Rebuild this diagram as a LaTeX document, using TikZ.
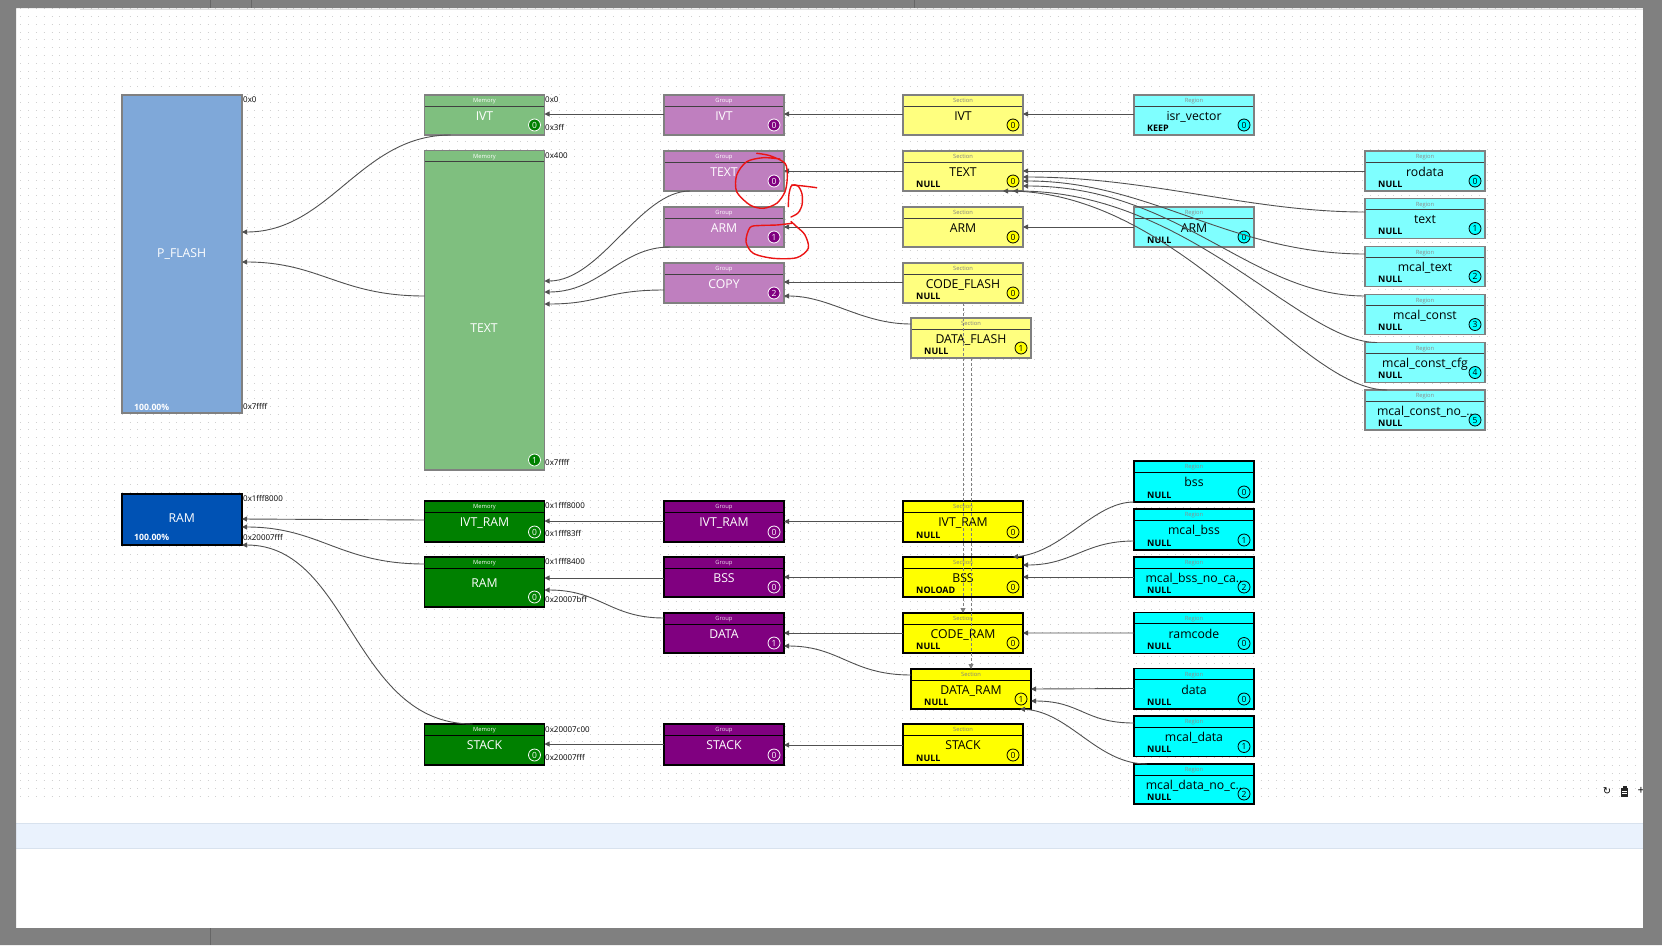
\documentclass[tikz,border=0pt]{standalone}
\usepackage{fontspec}
\setmainfont{Open Sans}
\newfontfamily\dejavu{DejaVu Sans}
\usetikzlibrary{calc,arrows.meta}
\definecolor{gbg}{RGB}{128,128,128}
\definecolor{mfc}{RGB}{127,191,127}
\definecolor{mrc}{RGB}{0,128,0}
\definecolor{gfc}{RGB}{191,127,191}
\definecolor{grc}{RGB}{128,0,128}
\definecolor{sfc}{RGB}{255,255,127}
\definecolor{src}{RGB}{255,255,0}
\definecolor{rfc}{RGB}{127,255,255}
\definecolor{rrc}{RGB}{0,255,255}
\definecolor{pfc}{RGB}{127,168,217}
\definecolor{ramc}{RGB}{0,82,180}
\definecolor{conncol}{RGB}{80,80,80}
\definecolor{dotc}{RGB}{208,208,208}
\definecolor{bandc}{RGB}{234,242,253}
\definecolor{bandl}{RGB}{216,226,238}
\definecolor{flashline}{RGB}{128,128,128}
\definecolor{hdrline}{RGB}{64,64,64}
\definecolor{redmk}{RGB}{235,20,20}
\newcommand\fs[1]{\fontsize{#1}{#1}\selectfont}
\newcommand\card[9]{%
  \node[#2, anchor=north west, minimum width=#5bp, minimum height=#6bp] (#1) at (#3,#4) {};
  \draw[#2sep] ($(#1.north west)+(0.7,11)$) -- ($(#1.north east)+(-0.7,11)$);
  \node[#2hdr] (#1-h) at ($(#1.north)+(0,5.8)$) {#7};
  \pgfmathsetmacro\lblo{(#6+11)/2-4.5}
  \node[#2lbl] (#1-l) at ($(#1.north)+(0,\lblo)$) {#8};
  \node[#2badge] (#1-b) at ($(#1.south east)+(-10,-10)$) {#9};
}
\newcommand\flag[2]{\node[flagst, anchor=west] (#1-f) at ($(#1.south west)+(13,-7)$) {#2};}
\begin{document}
\begin{tikzpicture}[x=1bp,y=-1bp,
 box/.style={rectangle, inner sep=0pt, outer sep=0pt, line width=1.4bp},
 hdr/.style={inner sep=0pt, font=\fs{5.8}, text height=4.2bp, text depth=0bp},
 lbl/.style={inner sep=0pt, font=\fs{12.3}, text height=8.8bp, text depth=0bp},
 badge/.style={circle, inner sep=0pt, minimum size=12bp, line width=0.8bp, font=\fs{8.5}, text height=6.1bp, text depth=0bp},
 sep/.style={line width=1bp},
 mf/.style={box, fill=mfc, draw=flashline},
 mfsep/.style={sep, draw=hdrline},
 mfhdr/.style={hdr, text=white},
 mflbl/.style={lbl, text=white},
 mfbadge/.style={badge, fill=mrc, draw=white, text=white},
 mr/.style={box, fill=mrc, draw=black},
 mrsep/.style={sep, draw=black},
 mrhdr/.style={hdr, text=white},
 mrlbl/.style={lbl, text=white},
 mrbadge/.style={badge, draw=white, text=white},
 gf/.style={box, fill=gfc, draw=flashline},
 gfsep/.style={sep, draw=hdrline},
 gfhdr/.style={hdr, text=white},
 gflbl/.style={lbl, text=white},
 gfbadge/.style={badge, fill=grc, draw=white, text=white},
 gr/.style={box, fill=grc, draw=black},
 grsep/.style={sep, draw=black},
 grhdr/.style={hdr, text=white!85!grc},
 grlbl/.style={lbl, text=white},
 grbadge/.style={badge, draw=white, text=white},
 sf/.style={box, fill=sfc, draw=flashline},
 sfsep/.style={sep, draw=hdrline},
 sfhdr/.style={hdr, text=black!50},
 sflbl/.style={lbl, text=black},
 sfbadge/.style={badge, fill=src, draw=black, text=black},
 sr/.style={box, fill=src, draw=black},
 srsep/.style={sep, draw=black},
 srhdr/.style={hdr, text=black!50},
 srlbl/.style={lbl, text=black},
 srbadge/.style={badge, draw=black, text=black},
 rf/.style={box, fill=rfc, draw=flashline},
 rfsep/.style={sep, draw=hdrline},
 rfhdr/.style={hdr, text=black!45},
 rflbl/.style={lbl, text=black},
 rfbadge/.style={badge, fill=rrc, draw=black, text=black},
 rr/.style={box, fill=rrc, draw=black},
 rrsep/.style={sep, draw=black},
 rrhdr/.style={hdr, text=black!45},
 rrlbl/.style={lbl, text=black},
 rrbadge/.style={badge, draw=black, text=black},
 flagst/.style={inner sep=0pt, font=\bfseries\fs{9}, text=black, text height=6.4bp, text depth=0bp},
 addr/.style={inner sep=0pt, anchor=west, font=\fs{8}, text=black, text height=5.7bp, text depth=0bp},
 conn/.style={draw=conncol, line width=0.9bp, -{Triangle[length=5bp,width=5bp]}},
 dconn/.style={conn, draw=gray, dash pattern=on 3bp off 2bp},
 redmark/.style={draw=redmk, line width=1.4bp, line cap=round, line join=round},
]
\useasboundingbox (0,0) rectangle (1662,945);
% window background
\fill[gbg] (0,0) rectangle (1662,945);
\fill[white] (16,8) rectangle (1643,928);
\draw[black!12, line width=1bp] (80,9) -- (1643,9);
% dot grid
\foreach \r in {0,...,101}{
  \draw[dotc, line width=1.1bp, dash pattern=on 1.1bp off 6.7bp] (20.3,{8.7+7.8*\r}) -- (1643,{8.7+7.8*\r});
}
% light band
\fill[bandc] (16,823) rectangle (1643,848);
\draw[bandl, line width=1bp] (16,823) -- (1643,823) (16,848) -- (1643,848);

% ---------- P_FLASH and RAM ----------
\node[box, fill=pfc, draw=flashline, anchor=north west, minimum width=120bp, minimum height=318bp] (pflash) at (122,95) {};
\node[lbl, text=white] (pflash-l) at (181.7,253.3) {P\_FLASH};
\node[inner sep=0pt, anchor=west, font=\bfseries\fs{8.7}, text=white] (pflash-p) at (134,407.5) {100.00\%};
\node[box, fill=ramc, draw=black, anchor=north west, minimum width=120bp, minimum height=51bp] (ram) at (122,494) {};
\node[lbl, text=white] (ram-l) at (181.7,518.3) {RAM};
\node[inner sep=0pt, anchor=west, font=\bfseries\fs{8.7}, text=white] (ram-p) at (134,537.7) {100.00\%};

% ---------- Memory ----------
\card{ivtm}{mf}{424.5}{95}{120}{40}{Memory}{IVT}{0}
\card{textm}{mf}{424.5}{150.5}{120}{319.5}{Memory}{}{1}
\node[mflbl] (textm-t) at (484,328) {TEXT};
\card{ivtramm}{mr}{424.5}{501}{120}{41}{Memory}{IVT\_RAM}{0}
\card{ramm}{mr}{424.5}{557}{120}{50}{Memory}{RAM}{0}
\card{stackm}{mr}{424.5}{724}{120}{41}{Memory}{STACK}{0}

% ---------- Groups ----------
\card{ivtg}{gf}{664}{95}{120}{40}{Group}{IVT}{0}
\card{textg}{gf}{664}{151}{120}{40}{Group}{TEXT}{0}
\card{armg}{gf}{664}{207}{120}{40}{Group}{ARM}{1}
\card{copyg}{gf}{664}{263}{120}{40}{Group}{COPY}{2}
\card{ivtramg}{gr}{664}{501}{120}{41}{Group}{IVT\_RAM}{0}
\card{bssg}{gr}{664}{557}{120}{40}{Group}{BSS}{0}
\card{datag}{gr}{664}{613}{120}{40}{Group}{DATA}{1}
\card{stackg}{gr}{664}{724}{120}{41}{Group}{STACK}{0}

% ---------- Sections ----------
\card{ivts}{sf}{903}{95}{120}{40}{Section}{IVT}{0}
\card{texts}{sf}{903}{151}{120}{40}{Section}{TEXT}{0}\flag{texts}{NULL}
\card{arms}{sf}{903}{207}{120}{40}{Section}{ARM}{0}
\card{codefs}{sf}{903}{263}{120}{40}{Section}{CODE\_FLASH}{0}\flag{codefs}{NULL}
\card{datafs}{sf}{911}{318}{120}{40}{Section}{DATA\_FLASH}{1}\flag{datafs}{NULL}
\card{ivtrams}{sr}{903}{501}{120}{41}{Section}{IVT\_RAM}{0}\flag{ivtrams}{NULL}
\card{bsss}{sr}{903}{557}{120}{40}{Section}{BSS}{0}\flag{bsss}{NOLOAD}
\card{coders}{sr}{903}{613}{120}{40}{Section}{CODE\_RAM}{0}\flag{coders}{NULL}
\card{datars}{sr}{911}{669}{120}{40}{Section}{DATA\_RAM}{1}\flag{datars}{NULL}
\card{stacks}{sr}{903}{724}{120}{41}{Section}{STACK}{0}\flag{stacks}{NULL}

% ---------- Regions ----------
\card{isrr}{rf}{1134}{95}{120}{40}{Region}{isr\_vector}{0}\flag{isrr}{KEEP}
\card{armr}{rf}{1134}{207}{120}{40}{Region}{ARM}{0}\flag{armr}{NULL}
\card{rodatar}{rf}{1365}{151}{120}{40}{Region}{rodata}{0}\flag{rodatar}{NULL}
\card{textr}{rf}{1365}{198.5}{120}{40}{Region}{text}{1}\flag{textr}{NULL}
\card{mtextr}{rf}{1365}{246.5}{120}{40}{Region}{mcal\_text}{2}\flag{mtextr}{NULL}
\card{mconstr}{rf}{1365}{294.5}{120}{40}{Region}{mcal\_const}{3}\flag{mconstr}{NULL}
\card{mcfgr}{rf}{1365}{342.5}{120}{40}{Region}{mcal\_const\_cfg}{4}\flag{mcfgr}{NULL}
\card{mnor}{rf}{1365}{390}{120}{40}{Region}{mcal\_const\_no\_..}{5}\flag{mnor}{NULL}
\card{bssr}{rr}{1134}{461}{120}{41}{Region}{bss}{0}\flag{bssr}{NULL}
\card{mbssr}{rr}{1134}{509}{120}{41}{Region}{mcal\_bss}{1}\flag{mbssr}{NULL}
\card{mbssnr}{rr}{1134}{557}{120}{40}{Region}{mcal\_bss\_no\_ca..}{2}\flag{mbssnr}{NULL}
\card{ramcoder}{rr}{1134}{612.5}{120}{41}{Region}{ramcode}{0}\flag{ramcoder}{NULL}
\card{datar}{rr}{1134}{668.5}{120}{40.5}{Region}{data}{0}\flag{datar}{NULL}
\card{mdatar}{rr}{1134}{716}{120}{40.5}{Region}{mcal\_data}{1}\flag{mdatar}{NULL}
\card{mdatanr}{rr}{1134}{764}{120}{40}{Region}{mcal\_data\_no\_c..}{2}\flag{mdatanr}{NULL}

% ---------- address labels ----------
\node[addr] (a1) at (243,100) {0x0};
\node[addr] (a2) at (243,407) {0x7ffff};
\node[addr] (a3) at (243,499) {0x1fff8000};
\node[addr] (a4) at (243,538) {0x20007fff};
\node[addr] (a5) at (545,100) {0x0};
\node[addr] (a6) at (545,128) {0x3ff};
\node[addr] (a7) at (545,156) {0x400};
\node[addr] (a8) at (545,463) {0x7ffff};
\node[addr] (a9) at (545,506) {0x1fff8000};
\node[addr] (a10) at (545,534) {0x1fff83ff};
\node[addr] (a11) at (545,562) {0x1fff8400};
\node[addr] (a12) at (545,600) {0x20007bff};
\node[addr] (a13) at (545,730) {0x20007c00};
\node[addr] (a14) at (545,758) {0x20007fff};

% ---------- connectors: flash ----------
\draw[conn] ($(ivtm.south west)+(26,0)$) .. controls +(-90,0) and +(88,0) .. ($(pflash.north east)+(0,137)$);
\draw[conn] ($(textm.north west)+(0,145.5)$) .. controls +(-85,0) and +(78,0) .. ($(pflash.north east)+(0,167)$);
\draw[conn] ($(ivtg.north west)+(0,19)$) -- ($(ivtm.north east)+(0,19)$);
\draw[conn] ($(textg.south west)+(26,0)$) .. controls +(-50,0) and +(56,0) .. ($(textm.north east)+(0,130.5)$);
\draw[conn] ($(armg.south west)+(6,0)$) .. controls +(-50,0) and +(56,0) .. ($(textm.north east)+(0,141.5)$);
\draw[conn] ($(copyg.north west)+(0,27)$) .. controls +(-60,0) and +(56,0) .. ($(textm.north east)+(0,153.5)$);
\draw[conn] ($(ivts.north west)+(0,19)$) -- ($(ivtg.north east)+(0,19)$);
\draw[conn] ($(texts.north west)+(0,20)$) -- ($(textg.north east)+(0,20)$);
\draw[conn] ($(arms.north west)+(0,20)$) -- ($(armg.north east)+(0,20)$);
\draw[conn] ($(codefs.north west)+(0,19)$) -- ($(copyg.north east)+(0,19)$);
\draw[conn] ($(datafs.north west)+(0,6)$) .. controls +(-50,0) and +(46,0) .. ($(copyg.north east)+(0,33)$);
\draw[conn] ($(isrr.north west)+(0,19)$) -- ($(ivts.north east)+(0,19)$);
\draw[conn] ($(rodatar.north west)+(0,20)$) -- ($(texts.north east)+(0,20)$);
\draw[conn] ($(textr.north west)+(0,13.5)$) .. controls +(-115,0) and +(127,0) .. ($(texts.north east)+(0,26)$);
\draw[conn] ($(mtextr.north west)+(0,7.5)$) .. controls +(-135,0) and +(127,0) .. ($(texts.north east)+(0,30)$);
\draw[conn] ($(mconstr.north west)+(0,1.5)$) .. controls +(-115,0) and +(157,0) .. ($(texts.north east)+(0,35)$);
\draw[conn] ($(mcfgr.north west)+(12,0)$) .. controls +(-77,0) and +(177,0) .. ($(texts.south east)+(-10,0)$);
\draw[conn] ($(mnor.north west)+(22,0)$) .. controls +(-87,0) and +(177,0) .. ($(texts.south east)+(-20,0)$);
\draw[conn] ($(armr.north west)+(0,20)$) -- ($(arms.north east)+(0,20)$);

% ---------- connectors: ram ----------
\draw[conn] ($(ivtramm.north west)+(0,19)$) -- ($(ram.north east)+(0,25)$);
\draw[conn] ($(ramm.north west)+(0,7)$) .. controls +(-85,0) and +(78,0) .. ($(ram.north east)+(0,33)$);
\draw[conn] ($(stackm.north west)+(48,0)$) .. controls +(-120,0) and +(108,0) .. (ram.south east);
\draw[conn] ($(ivtramg.north west)+(0,20)$) -- ($(ivtramm.north east)+(0,20)$);
\draw[conn] ($(bssg.north west)+(0,21)$) -- ($(ramm.north east)+(0,21)$);
\draw[conn] ($(datag.north west)+(0,5)$) .. controls +(-54,0) and +(56,0) .. ($(ramm.north east)+(0,33)$);
\draw[conn] ($(stackg.north west)+(0,20)$) -- ($(stackm.north east)+(0,20)$);
\draw[conn] ($(ivtrams.north west)+(0,20.5)$) -- ($(ivtramg.north east)+(0,20.5)$);
\draw[conn] ($(bsss.north west)+(0,20)$) -- ($(bssg.north east)+(0,20)$);
\draw[conn] ($(coders.north west)+(0,20)$) -- ($(datag.north east)+(0,20)$);
\draw[conn] ($(datars.north west)+(0,6)$) .. controls +(-60,0) and +(56,0) .. ($(datag.north east)+(0,33)$);
\draw[conn] ($(stacks.north west)+(0,21)$) -- ($(stackg.north east)+(0,21)$);
\draw[conn] (bssr.south west) .. controls +(-40,0) and +(50,-5) .. ($(bsss.north east)+(-10,0)$);
\draw[conn] ($(mbssr.north west)+(0,32)$) .. controls +(-50,0) and +(50,0) .. ($(bsss.north east)+(0,8)$);
\draw[conn] ($(mbssnr.north west)+(0,20)$) -- ($(bsss.north east)+(0,20)$);
\draw[conn] ($(ramcoder.north west)+(0,20.5)$) -- ($(coders.north east)+(0,20)$);
\draw[conn] ($(datar.north west)+(0,20)$) -- ($(datars.north east)+(0,20)$);
\draw[conn] ($(mdatar.north west)+(0,7)$) .. controls +(-50,0) and +(50,0) .. ($(datars.north east)+(0,32)$);
\draw[conn] ($(mdatanr.north west)+(13,0)$) .. controls +(-50,0) and +(50,3) .. ($(datars.south east)+(-11,0)$);

% ---------- dashed copies ----------
\draw[dconn] (codefs.south) -- (coders.north);
\draw[dconn] (datafs.south) -- (datars.north);

% ---------- red hand annotations ----------
\draw[redmark] plot[smooth] coordinates {(756.7,153.3) (770,155.7) (785,163.3) (787.3,176.7) (785,191.7) (776.7,203.3) (763.3,208.3) (750,205) (736.7,191.7) (736.7,175) (746.7,161.7) (763.3,157.7) (780,159)};
\draw[redmark] (791.7,185) .. controls (800,185.5) and (808,186.5) .. (816.7,187.7);
\draw[redmark] plot[smooth] coordinates {(788.3,206.7) (789,194) (791.7,185.5) (798,186) (802,194) (802,205) (798,213) (791,217)};
\draw[redmark] plot[smooth] coordinates {(791.7,223.3) (776.7,225) (760,225.5) (750,227.5) (746,241.7) (753.3,253.3) (773.3,258.3) (796.7,257.7) (808.3,248.3) (805,235) (796.7,226.7) (791,221.5)};

% ---------- small toolbar icons ----------
\node[inner sep=0pt, font=\dejavu\fs{10}] (icoref) at (1607,791.5) {↻};
\fill[black!85] (1620.8,787.5) rectangle (1628.2,797);
\fill[black!85] (1622.5,786) rectangle (1626.5,788);
\draw[white, line width=0.6bp] (1622.3,791) -- (1626.7,791) (1622.3,793.5) -- (1626.7,793.5);
\node[inner sep=0pt, font=\fs{12}] (icoplus) at (1641,791) {+};

% ---------- window frame on top ----------
\fill[gbg, even odd rule] (0,0) rectangle (1662,945) (16,8) rectangle (1643,928);
\draw[black!60, line width=1bp] (210,0) -- (210,8) (251,0) -- (251,8) (914,0) -- (914,8) (210,928) -- (210,945);
\end{tikzpicture}
\end{document}
